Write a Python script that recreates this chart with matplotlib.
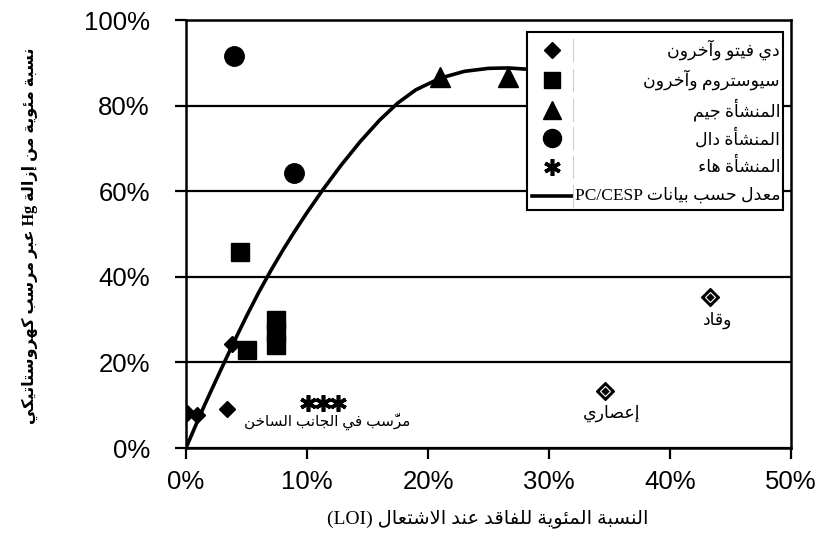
import matplotlib
matplotlib.use("Agg")
import matplotlib.pyplot as plt
from matplotlib.lines import Line2D
from matplotlib.patches import Rectangle
from matplotlib.ticker import PercentFormatter

# ---------------------------------------------------------------- data (LOI %, Hg removal %)
devito_x = [0.1, 0.9, 3.4, 3.8]
devito_y = [8.2, 7.7, 9.0, 24.3]
sjostrom_x = [4.5, 5.0, 7.4, 7.4, 7.4]
sjostrom_y = [45.8, 23.0, 24.0, 27.0, 30.0]
plant_c_x = [21.0, 26.6]
plant_c_y = [86.7, 86.7]
plant_d_x = [4.0, 8.9]
plant_d_y = [91.6, 64.2]
plant_e_x = [10.1, 11.3, 12.6]
plant_e_y = [10.6, 10.6, 10.6]
special_x = [34.6, 43.3]
special_y = [13.3, 35.3]
avg_x = [0.0, 0.5, 1.0, 1.5, 2.0, 3.0, 4.0, 5.0, 6.0, 7.0, 8.0, 9.0, 10.0, 11.3,
         12.8, 14.4, 16.0, 17.5, 19.0, 21.0, 23.0, 25.0, 26.6, 28.2, 30.0]
avg_y = [0.0, 3.3, 6.6, 9.8, 12.9, 19.0, 25.0, 30.8, 36.3, 41.4, 46.2, 50.7, 55.0, 60.3,
         66.0, 71.6, 76.6, 80.6, 83.7, 86.4, 88.0, 88.7, 88.8, 88.5, 87.9]

x_ticks = [0, 10, 20, 30, 40, 50]
y_ticks = [0, 20, 40, 60, 80, 100]

# ---------------------------------------------------------------- minimal Arabic shaping
FORMS = {
    'ء': ('\uFE80', None, None, None),
    'آ': ('\uFE81', '\uFE82', None, None),
    'أ': ('\uFE83', '\uFE84', None, None),
    'ؤ': ('\uFE85', '\uFE86', None, None),
    'إ': ('\uFE87', '\uFE88', None, None),
    'ئ': ('\uFE89', '\uFE8A', '\uFE8B', '\uFE8C'),
    'ا': ('\uFE8D', '\uFE8E', None, None),
    'ب': ('\uFE8F', '\uFE90', '\uFE91', '\uFE92'),
    'ة': ('\uFE93', '\uFE94', None, None),
    'ت': ('\uFE95', '\uFE96', '\uFE97', '\uFE98'),
    'ث': ('\uFE99', '\uFE9A', '\uFE9B', '\uFE9C'),
    'ج': ('\uFE9D', '\uFE9E', '\uFE9F', '\uFEA0'),
    'ح': ('\uFEA1', '\uFEA2', '\uFEA3', '\uFEA4'),
    'خ': ('\uFEA5', '\uFEA6', '\uFEA7', '\uFEA8'),
    'د': ('\uFEA9', '\uFEAA', None, None),
    'ذ': ('\uFEAB', '\uFEAC', None, None),
    'ر': ('\uFEAD', '\uFEAE', None, None),
    'ز': ('\uFEAF', '\uFEB0', None, None),
    'س': ('\uFEB1', '\uFEB2', '\uFEB3', '\uFEB4'),
    'ش': ('\uFEB5', '\uFEB6', '\uFEB7', '\uFEB8'),
    'ص': ('\uFEB9', '\uFEBA', '\uFEBB', '\uFEBC'),
    'ض': ('\uFEBD', '\uFEBE', '\uFEBF', '\uFEC0'),
    'ط': ('\uFEC1', '\uFEC2', '\uFEC3', '\uFEC4'),
    'ظ': ('\uFEC5', '\uFEC6', '\uFEC7', '\uFEC8'),
    'ع': ('\uFEC9', '\uFECA', '\uFECB', '\uFECC'),
    'غ': ('\uFECD', '\uFECE', '\uFECF', '\uFED0'),
    'ف': ('\uFED1', '\uFED2', '\uFED3', '\uFED4'),
    'ق': ('\uFED5', '\uFED6', '\uFED7', '\uFED8'),
    'ك': ('\uFED9', '\uFEDA', '\uFEDB', '\uFEDC'),
    'ل': ('\uFEDD', '\uFEDE', '\uFEDF', '\uFEE0'),
    'م': ('\uFEE1', '\uFEE2', '\uFEE3', '\uFEE4'),
    'ن': ('\uFEE5', '\uFEE6', '\uFEE7', '\uFEE8'),
    'ه': ('\uFEE9', '\uFEEA', '\uFEEB', '\uFEEC'),
    'و': ('\uFEED', '\uFEEE', None, None),
    'ى': ('\uFEEF', '\uFEF0', None, None),
    'ي': ('\uFEF1', '\uFEF2', '\uFEF3', '\uFEF4'),
}
LAM_ALEF = {'ا': ('\uFEFB', '\uFEFC'), 'أ': ('\uFEF7', '\uFEF8'),
            'إ': ('\uFEF9', '\uFEFA'), 'آ': ('\uFEF5', '\uFEF6')}
MARKS = set('\u064B\u064C\u064D\u064E\u064F\u0650\u0651\u0652')


def _dual(c):
    return c in FORMS and FORMS[c][2] is not None


def rtl(text):
    """Contextual forms + visual (left-to-right) order for an Arabic run."""
    clusters = []
    for c in text:
        if c in MARKS and clusters:
            clusters[-1][1].append(c)
        else:
            clusters.append([c, []])
    out = []
    n = len(clusters)
    i = 0
    while i < n:
        c, marks = clusters[i]
        prev = clusters[i - 1][0] if i > 0 else None
        prev_joins = prev is not None and _dual(prev) and c in FORMS
        if c == 'ل' and i + 1 < n and clusters[i + 1][0] in LAM_ALEF:
            g = LAM_ALEF[clusters[i + 1][0]][1 if prev_joins else 0]
            out.append((g, marks + clusters[i + 1][1]))
            i += 2
            continue
        if c in FORMS:
            nxt = clusters[i + 1][0] if i + 1 < n else None
            next_joins = _dual(c) and nxt in FORMS
            iso, fin, ini, med = FORMS[c]
            if prev_joins and next_joins:
                g = med
            elif prev_joins:
                g = fin
            elif next_joins:
                g = ini
            else:
                g = iso
            out.append((g, marks))
        else:
            out.append((c, marks))
        i += 1
    return ''.join(g + ''.join(m) for g, m in reversed(out))


AR = ['Liberation Serif', 'DejaVu Sans']

legend_labels = [
    rtl('دي فيتو وآخرون'),
    rtl('سيوستروم وآخرون'),
    rtl('المنشأة جيم'),
    rtl('المنشأة دال'),
    rtl('المنشأة هاء'),
    'PC/CESP ' + rtl('معدل حسب بيانات'),
]
x_label = '(LOI) ' + rtl('النسبة المئوية للفاقد عند الاشتعال')
y_label = rtl('عبر مرسب كهروستاتيكي') + ' Hg ' + rtl('نسبة مئوية من إزالة')
label_stoker = rtl('وقاد')
label_cyclone = rtl('إعصاري')
label_hotside = rtl('مرسَّب في الجانب الساخن')

# ---------------------------------------------------------------- figure
plt.rcParams['font.family'] = ['Liberation Sans', 'DejaVu Sans']
fig = plt.figure(figsize=(8.22, 5.53), dpi=100)
ax = fig.add_axes([186 / 822, 1 - 448 / 553, (791 - 186) / 822, (448 - 20) / 553])

ax.set_xlim(0, 50)
ax.set_ylim(0, 100)
ax.set_xticks(x_ticks)
ax.set_yticks(y_ticks)
ax.xaxis.set_major_formatter(PercentFormatter(decimals=0))
ax.yaxis.set_major_formatter(PercentFormatter(decimals=0))
ax.tick_params(axis='both', direction='out', length=8, width=1.6, labelsize=18.5, colors='black')
ax.tick_params(axis='x', pad=8)
ax.tick_params(axis='y', pad=18)
for s in ax.spines.values():
    s.set_linewidth(1.8)
    s.set_color('black')
ax.yaxis.grid(True, color='black', linewidth=1.6)
ax.set_axisbelow(True)

mk = dict(color='black', linestyle='none')
ax.plot(avg_x, avg_y, color='black', linewidth=2.6, zorder=3, solid_joinstyle='round')
ax.plot(devito_x, devito_y, marker='D', markersize=8.5, zorder=4, **mk)
ax.plot(sjostrom_x, sjostrom_y, marker='s', markersize=12.5, zorder=4, **mk)
ax.plot(plant_c_x, plant_c_y, marker='^', markersize=14, zorder=4, **mk)
ax.plot(plant_d_x, plant_d_y, marker='o', markersize=14, zorder=4, **mk)
ax.plot(plant_e_x, plant_e_y, marker=(6, 2, 0), markersize=12, markeredgewidth=2.6, zorder=4, **mk)
ax.plot(special_x, special_y, marker='D', markersize=9, zorder=4, **mk)
ax.plot(special_x, special_y, marker='D', markersize=5, markerfacecolor='black',
        markeredgecolor='white', markeredgewidth=0.8, linestyle='none', zorder=5)

ax.text(special_x[1] + 0.6, 29.9, label_stoker, family=AR, fontsize=12.5, ha='center', va='center')
ax.text(special_x[0] + 0.6, 8.2, label_cyclone, family=AR, fontsize=12.5, ha='center', va='center')
ax.text(11.7, 6.3, label_hotside, family=AR, fontsize=11, ha='center', va='center')

# ---------------------------------------------------------------- legend box
box = Rectangle((0.564, 0.556), 0.423, 0.416, transform=ax.transAxes, facecolor='white',
                edgecolor='black', linewidth=1.5, zorder=10, clip_on=False)
ax.add_patch(box)
rows = [0.930, 0.860, 0.790, 0.724, 0.657, 0.589]
handles = [dict(marker='D', markersize=8.5), dict(marker='s', markersize=12),
           dict(marker='^', markersize=13), dict(marker='o', markersize=13),
           dict(marker=(6, 2, 0), markersize=12, markeredgewidth=2.6)]
for yy, h in zip(rows[:5], handles):
    ax.add_line(Line2D([0.605], [yy], transform=ax.transAxes, color='black', linestyle='none',
                       zorder=11, clip_on=False, **h))
    ax.add_line(Line2D([0.640, 0.640], [yy - 0.025, yy + 0.025], transform=ax.transAxes,
                       color='#cccccc', linewidth=0.8, zorder=11, clip_on=False))
ax.add_line(Line2D([0.572, 0.638], [rows[5], rows[5]], transform=ax.transAxes, color='black',
                   linewidth=2.6, zorder=11, clip_on=False))
ax.add_line(Line2D([0.640, 0.640], [rows[5] - 0.025, rows[5] + 0.025], transform=ax.transAxes,
                   color='#cccccc', linewidth=0.8, zorder=11, clip_on=False))
for yy, lab in zip(rows, legend_labels):
    ax.text(0.982, yy, lab, transform=ax.transAxes, family=AR, fontsize=12.5,
            ha='right', va='center', zorder=12, clip_on=False)

# ---------------------------------------------------------------- axis titles
fig.text(488 / 822, 1 - 519 / 553, x_label, family=AR, fontsize=14, ha='center', va='center')
fig.text(30 / 822, 1 - 236 / 553, y_label, family=AR, fontsize=11.5, fontweight='bold',
         rotation=90, ha='center', va='center')

fig.savefig('out.png', dpi=100)
